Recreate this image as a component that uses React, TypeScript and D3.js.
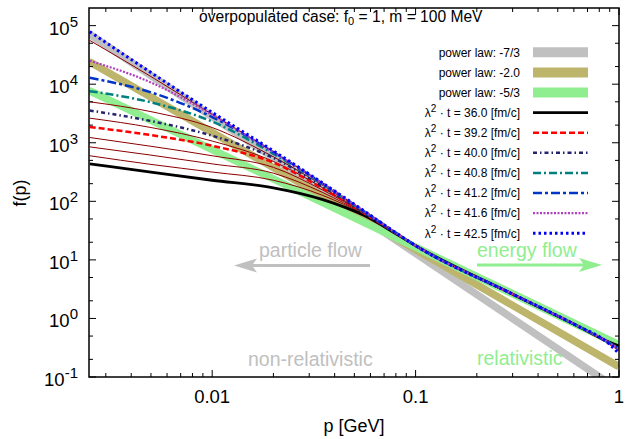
import React from "react";
import * as d3 from "d3";

// ---- data -------------------------------------------------------------
// momentum grid [GeV] on which the distribution snapshots are sampled
const momentum = [0.0025, 0.005, 0.01, 0.02, 0.035, 0.056, 0.08, 0.1, 0.3, 0.6, 0.9, 1.0];

// f(p) snapshots at the labelled times (lambda^2 t in fm/c)
const timeLabels = ["36.0", "39.2", "40.0", "40.8", "41.2", "41.6", "42.5"];
const fT360 = [436, 316, 229, 170, 107, 57, 28, 17.5, 2.6, 0.8, 0.39, 0.34];
const fT392 = [1860, 1350, 890, 457, 166, 62, 28.5, 17.5, 2.6, 0.8, 0.37, 0.29];
const fT400 = [3550, 2350, 1320, 550, 178, 63, 28.5, 17.5, 2.6, 0.8, 0.38, 0.31];
const fT408 = [7600, 4900, 2300, 645, 195, 66, 29, 17.5, 2.6, 0.8, 0.38, 0.31];
const fT412 = [12900, 7250, 2750, 690, 200, 67, 29, 17.5, 2.6, 0.8, 0.38, 0.3];
const fT416 = [25100, 10700, 3000, 690, 198, 67, 29, 17.5, 2.6, 0.8, 0.38, 0.3];
const fT425 = [79000, 15800, 3300, 725, 204, 68, 29, 17.5, 2.6, 0.8, 0.36, 0.25];

// unlabelled intermediate snapshots (thin lines)
const fThinA = [56000, 13500, 3050, 700, 200, 67, 29, 17.5, 2.6, 0.8, 0.38, 0.31];
const fThinB = [5000, 3400, 1820, 575, 186, 65, 29, 17.5, 2.6, 0.8, 0.38, 0.31];
const fThinC = [2630, 1820, 1070, 480, 170, 63, 28.5, 17.5, 2.6, 0.8, 0.38, 0.31];
const fThinD = [1230, 870, 600, 380, 155, 62, 28, 17.5, 2.6, 0.8, 0.38, 0.31];
const fThinE = [850, 615, 436, 302, 141, 60, 28, 17.5, 2.6, 0.8, 0.38, 0.31];
const fThinF = [600, 427, 316, 229, 126, 59, 28, 17.5, 2.6, 0.8, 0.38, 0.31];

// reference power laws f = A * p^k
const powerLabels = ["-7/3", "-2.0", "-5/3"];
const powerExponents = [-7 / 3, -2.0, -5 / 3];
const powerAmplitudes = [0.06, 0.15, 0.355];

// axes
const xTickValues = [0.01, 0.1, 1];
const xTickLabels = ["0.01", "0.1", "1"];
const yTickExponents = [-1, 0, 1, 2, 3, 4, 5];

// ---- styles -----------------------------------------------------------
const snapshotSeries = [fT360, fT392, fT400, fT408, fT412, fT416, fT425];
const snapshotStyles = [
  { color: "#000000", width: 2.8, dash: "" },
  { color: "#ff0000", width: 2.5, dash: "6,3" },
  { color: "#24246e", width: 2.5, dash: "4,3,1.5,3" },
  { color: "#008080", width: 2.5, dash: "8,3,2,3" },
  { color: "#0035c8", width: 2.5, dash: "9,3,3,3" },
  { color: "#b040c0", width: 2.2, dash: "2,1.5" },
  { color: "#0000ff", width: 3, dash: "2.5,3" },
];
const thinSeries = [fThinA, fThinB, fThinC, fThinD, fThinE, fThinF];
const powerColors = ["#c0c0c0", "#bdb56c", "#90ee90"];

const FONT = "'Liberation Sans', Arial, Helvetica, sans-serif";
const W = 636;
const H = 439;
const X0 = 89;
const X1 = 619;
const Y0 = 8;
const Y1 = 377;

export default function App() {
  const x = d3.scaleLog().domain([0.00248, 1]).range([X0, X1]);
  const y = d3.scaleLog().domain([0.1, 2e5]).range([Y1, Y0]);

  const line = d3
    .line<[number, number]>()
    .x((d) => x(d[0]))
    .y((d) => y(d[1]))
    .curve(d3.curveMonotoneX);

  const pathOf = (vals: number[]) =>
    line(momentum.map((p, i) => [p, vals[i]] as [number, number])) || "";

  const [pMin, pMax] = x.domain();
  const powerPath = (k: number) =>
    d3.line<number>()
      .x((p) => x(p))
      .y((p) => y(powerAmplitudes[k] * Math.pow(p, powerExponents[k])))([pMin, pMax]) || "";

  // minor ticks
  const xMinor: number[] = [];
  [0.001, 0.01, 0.1].forEach((d) => {
    for (let m = 2; m <= 9; m++) {
      const v = d * m;
      if (v > pMin && v < pMax) xMinor.push(v);
    }
  });
  const yMinor: number[] = [];
  yTickExponents.forEach((e) => {
    [2, 5].forEach((m) => {
      const v = m * Math.pow(10, e);
      if (v > 0.1 && v < 2e5) yMinor.push(v);
    });
  });

  const legendRowY = (i: number) => 52.3 + i * 20.1;
  const legendTextX = 520;
  const legendLineX0 = 533;
  const legendLineX1 = 588;

  return (
    <div style={{ position: "fixed", left: 0, top: 0 }}>
      <svg width={W} height={H} style={{ display: "block", background: "#fff" }}>
        <defs>
          <clipPath id="plotClip">
            <rect x={X0} y={Y0} width={X1 - X0} height={Y1 - Y0} />
          </clipPath>
        </defs>

        <g clipPath="url(#plotClip)">
          {powerExponents.map((_, k) => (
            <path key={"pw" + k} d={powerPath(k)} stroke={powerColors[k]} strokeWidth={7.5} fill="none" />
          ))}
          {thinSeries.map((s, i) => (
            <path key={"thin" + i} d={pathOf(s)} stroke="#8b0000" strokeWidth={1} fill="none" />
          ))}
          {snapshotSeries.map((s, i) => (
            <path
              key={"snap" + i}
              d={pathOf(s)}
              stroke={snapshotStyles[i].color}
              strokeWidth={snapshotStyles[i].width}
              strokeDasharray={snapshotStyles[i].dash || undefined}
              fill="none"
            />
          ))}
        </g>

        {/* annotations */}
        <g fontFamily={FONT} fontSize={19.5}>
          <text x={259} y={257} fill="#c0c0c0">particle flow</text>
          <text x={248} y={366} fill="#c0c0c0">non-relativistic</text>
          <text x={477} y={257} fill="#90ee90">energy flow</text>
          <text x={477} y={365} fill="#90ee90">relativistic</text>
        </g>
        <line x1={370} y1={265.5} x2={250} y2={265.5} stroke="#c0c0c0" strokeWidth={3} />
        <polygon points="234,265.5 257,258.5 252,265.5 257,272.5" fill="#c0c0c0" />
        <line x1={477} y1={265} x2={588} y2={265} stroke="#90ee90" strokeWidth={3} />
        <polygon points="602,265 579,258 584,265 579,272" fill="#90ee90" />

        {/* ticks */}
        <g stroke="#000" strokeWidth={1}>
          {xTickValues.map((v) => (
            <g key={"xt" + v}>
              <line x1={x(v)} x2={x(v)} y1={Y1} y2={Y1 - 7} />
              <line x1={x(v)} x2={x(v)} y1={Y0} y2={Y0 + 7} />
            </g>
          ))}
          {xMinor.map((v) => (
            <g key={"xm" + v}>
              <line x1={x(v)} x2={x(v)} y1={Y1} y2={Y1 - 4} />
              <line x1={x(v)} x2={x(v)} y1={Y0} y2={Y0 + 4} />
            </g>
          ))}
          {yTickExponents.map((e) => {
            const yy = y(Math.pow(10, e));
            return (
              <g key={"yt" + e}>
                <line x1={X0} x2={X0 + 7} y1={yy} y2={yy} />
                <line x1={X1} x2={X1 - 7} y1={yy} y2={yy} />
              </g>
            );
          })}
          {yMinor.map((v) => (
            <g key={"ym" + v}>
              <line x1={X0} x2={X0 + 4} y1={y(v)} y2={y(v)} />
              <line x1={X1} x2={X1 - 4} y1={y(v)} y2={y(v)} />
            </g>
          ))}
        </g>
        <rect x={X0} y={Y0} width={X1 - X0} height={Y1 - Y0} fill="none" stroke="#000" strokeWidth={1.5} />

        {/* tick labels */}
        <g fontFamily={FONT} fontSize={18.5} fill="#000">
          {xTickValues.map((v, i) => (
            <text key={"xl" + v} x={x(v)} y={403} textAnchor="middle">
              {xTickLabels[i]}
            </text>
          ))}
          {yTickExponents.map((e) => (
            <text key={"yl" + e} x={78} y={y(Math.pow(10, e)) + 9} textAnchor="end">
              10
              <tspan dy={-8} fontSize={15}>{String(e)}</tspan>
            </text>
          ))}
        </g>

        {/* axis titles */}
        <text x={354} y={432} textAnchor="middle" fontFamily={FONT} fontSize={18}>
          p [GeV]
        </text>
        <text
          transform={`translate(26,193) rotate(-90)`}
          textAnchor="middle"
          fontFamily={FONT}
          fontSize={18}
        >
          f(p)
        </text>

        {/* title */}
        <text x={199} y={22} fontFamily={FONT} fontSize={15.6} style={{ whiteSpace: "pre" }}>
          overpopulated case: f
          <tspan dy={3} fontSize={11}>0</tspan>
          <tspan dy={-3}> = 1, m = 100 MeV</tspan>
        </text>

        {/* legend */}
        <g fontFamily={FONT} fontSize={12} style={{ whiteSpace: "pre" }}>
          {powerLabels.map((lab, k) => (
            <g key={"lp" + k}>
              <text x={legendTextX} y={legendRowY(k) + 4.3} textAnchor="end">
                {"power law: " + lab}
              </text>
              <line
                x1={legendLineX0}
                x2={legendLineX1}
                y1={legendRowY(k)}
                y2={legendRowY(k)}
                stroke={powerColors[k]}
                strokeWidth={10}
              />
            </g>
          ))}
          {timeLabels.map((lab, i) => {
            const yy = legendRowY(i + 3);
            const st = snapshotStyles[i];
            return (
              <g key={"lt" + i}>
                <text x={legendTextX} y={yy + 4.3} textAnchor="end">
                  λ
                  <tspan dy={-5} fontSize={10}>2</tspan>
                  <tspan dy={5}>{"  · t = " + lab + " [fm/c]"}</tspan>
                </text>
                <line
                  x1={legendLineX0}
                  x2={legendLineX1}
                  y1={yy}
                  y2={yy}
                  stroke={st.color}
                  strokeWidth={st.width}
                  strokeDasharray={st.dash || undefined}
                />
              </g>
            );
          })}
        </g>
      </svg>
    </div>
  );
}
